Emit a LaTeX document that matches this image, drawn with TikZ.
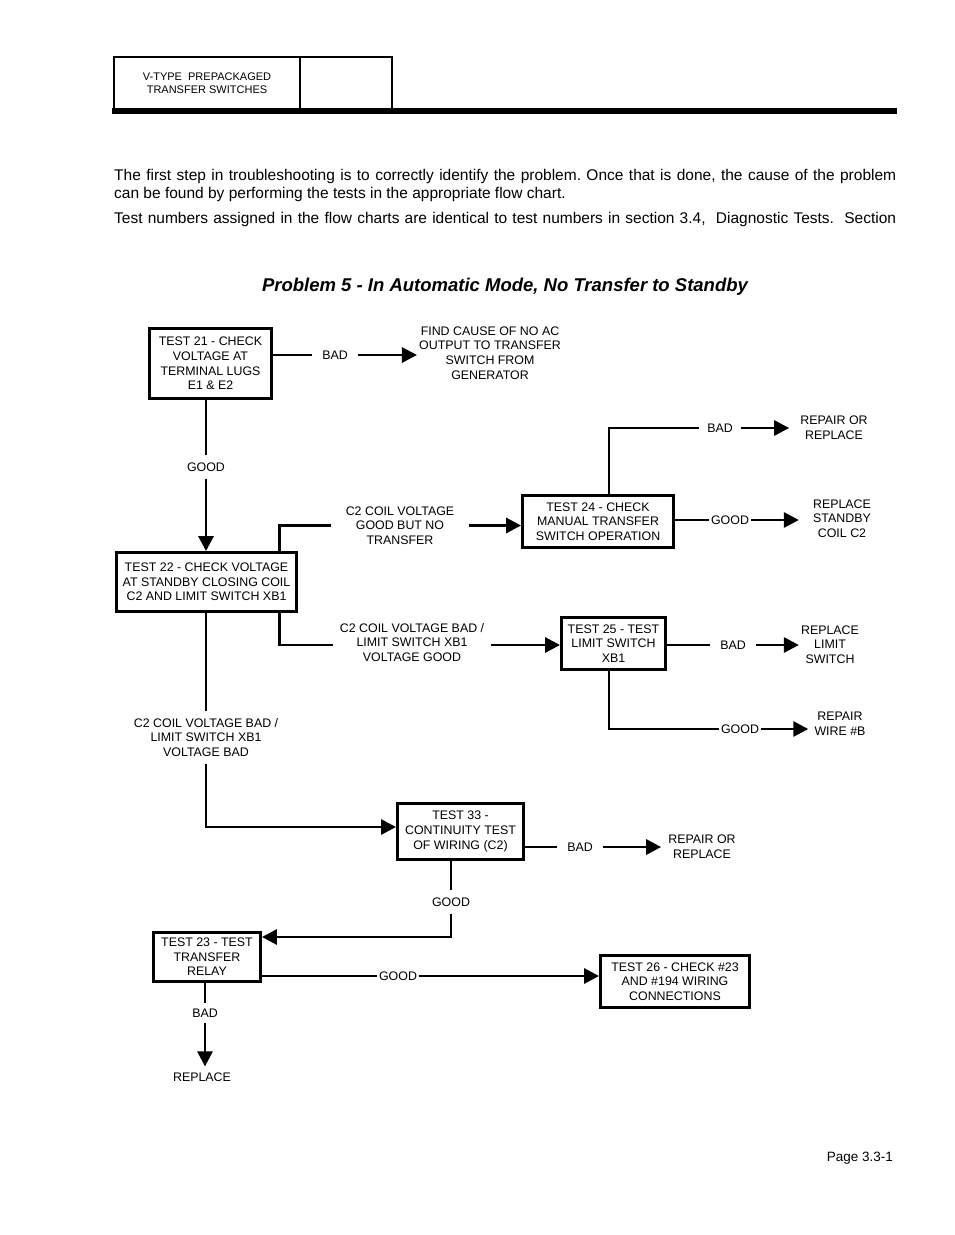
\documentclass[tikz,border=0pt]{standalone}
\usepackage{fontspec}
\setmainfont{Liberation Sans}
\usetikzlibrary{arrows.meta}
\frenchspacing
\newcommand\bxfont{\fontsize{12.4}{14.6}\selectfont}
\newcommand\bodyfont{\fontsize{15.5}{18}\selectfont}
\begin{document}
\begin{tikzpicture}[x=1pt,y=-1pt,
  box/.style={draw, line width=2.9pt, align=center, font=\bxfont, inner sep=0pt},
  lbl/.style={align=center, font=\bxfont, inner xsep=10pt, inner ysep=7pt},
  res/.style={align=center, font=\bxfont, inner sep=2pt},
  wire/.style={line width=2.9pt},
  arr/.style={line width=2.9pt, -{Triangle[length=15pt,width=15pt]}}
]
\useasboundingbox (0,0) rectangle (954,1235);

% header
\draw[line width=1.3pt] (114,57) rectangle (392,110);
\draw[line width=1.3pt] (300,57) -- (300,110);
\fill (112,108) rectangle (897,114);
\node[align=center, font=\fontsize{11}{13}\selectfont] (hdr) at (207,83.5) {V-TYPE\ \ PREPACKAGED\\TRANSFER SWITCHES};

% paragraph
\node[anchor=base west, inner sep=0pt, font=\bodyfont] (p1) at (114,180.5) {\makebox[782pt][s]{The first step in troubleshooting is to correctly identify the problem. Once that is done, the cause of the problem}};
\node[anchor=base west, inner sep=0pt, font=\bodyfont] (p2) at (114,198.5) {can be found by performing the tests in the appropriate flow chart.};
\node[anchor=base west, inner sep=0pt, font=\bodyfont] (p3) at (114,223.5) {\makebox[782pt][s]{Test numbers assigned in the flow charts are identical to test numbers in section 3.4,\ \ Diagnostic Tests.\ \ Section}};

% title
\node[font=\fontsize{18.5}{22}\selectfont\bfseries\itshape] (title) at (505,287) {Problem 5 - In Automatic Mode, No Transfer to Standby};

% boxes
\node[box, minimum width=122pt, minimum height=70pt] (t21) at (210.5,363.5) {TEST 21 - CHECK\\VOLTAGE AT\\TERMINAL LUGS\\E1 \& E2};
\node[box, minimum width=180pt, minimum height=59pt] (t22) at (206.5,582) {TEST 22 - CHECK VOLTAGE\\AT STANDBY CLOSING COIL\\C2 AND LIMIT SWITCH XB1};
\node[box, minimum width=151pt, minimum height=52pt] (t24) at (598,521.5) {TEST 24 - CHECK\\MANUAL TRANSFER\\SWITCH OPERATION};
\node[box, minimum width=104pt, minimum height=52pt] (t25) at (613.5,643.5) {TEST 25 - TEST\\LIMIT SWITCH\\XB1};
\node[box, minimum width=126pt, minimum height=56pt] (t33) at (460.5,831.5) {TEST 33 -\\CONTINUITY TEST\\OF WIRING (C2)};
\node[box, minimum width=107pt, minimum height=49pt] (t23) at (207,957) {TEST 23 - TEST\\TRANSFER\\RELAY};
\node[box, minimum width=149pt, minimum height=52pt] (t26) at (675,981.5) {TEST 26 - CHECK \#23\\AND \#194 WIRING\\CONNECTIONS};

% results
\node[res] (find) at (490,353) {FIND CAUSE OF NO AC\\OUTPUT TO TRANSFER\\SWITCH FROM\\GENERATOR};
\node[res, inner xsep=11pt] (rep1) at (834,427.5) {REPAIR OR\\REPLACE};
\node[res, inner xsep=14pt] (repsb) at (842,518.5) {REPLACE\\STANDBY\\COIL C2};
\node[res, inner xsep=2pt] (replim) at (830,644.5) {REPLACE\\LIMIT\\SWITCH};
\node[res, inner xsep=6pt] (repwire) at (840,724) {REPAIR\\WIRE \#B};
\node[res, inner xsep=7pt] (rep2) at (702,846.5) {REPAIR OR\\REPLACE};
\node[res, inner ysep=6pt] (replace) at (202,1077) {REPLACE};

% labels
\node[lbl] (bad21) at (335,355) {BAD};
\node[lbl] (good21) at (206,467) {GOOD};
\node[lbl, inner xsep=15pt] (c2good) at (400,525.5) {C2 COIL VOLTAGE\\GOOD BUT NO\\TRANSFER};
\node[lbl, inner xsep=8pt] (bad24) at (720,428) {BAD};
\node[lbl, inner xsep=1.5pt] (good24) at (730,520) {GOOD};
\node[lbl, inner xsep=7pt] (c2badg) at (412,642.5) {C2 COIL VOLTAGE BAD /\\LIMIT SWITCH XB1\\VOLTAGE GOOD};
\node[lbl] (bad25) at (733,645) {BAD};
\node[lbl, inner xsep=1.5pt] (good25) at (740,729) {GOOD};
\node[lbl] (c2badb) at (206,737.5) {C2 COIL VOLTAGE BAD /\\LIMIT SWITCH XB1\\VOLTAGE BAD};
\node[lbl] (bad33) at (580,847) {BAD};
\node[lbl] (good33) at (451,902) {GOOD};
\node[lbl, inner xsep=1.5pt] (good23) at (398,976) {GOOD};
\node[lbl, inner ysep=6pt] (bad23) at (205,1013) {BAD};

% connectors
\draw[wire] (t21.east |- bad21) -- (bad21.west);
\draw[arr] (bad21.east) -- (bad21.east -| find.west);

\draw[wire] (t21.south -| good21) -- (good21.north);
\draw[arr] (good21.south) -- (good21.south |- t22.north);

\draw[wire] ([xshift=-18.5pt]t22.north east) |- (c2good.west);
\draw[arr] (c2good.east) -- (c2good.east -| t24.west);

\draw[wire] ([xshift=11pt]t24.north) |- (bad24.west);
\draw[arr] (bad24.east) -- (bad24.east -| rep1.west);

\draw[wire] (t24.east |- good24) -- (good24.west);
\draw[arr] (good24.east) -- (good24.east -| repsb.west);

\draw[wire] ([xshift=-18.5pt]t22.south east) |- ([yshift=-2.5pt]c2badg.west);
\draw[arr] ([yshift=-2.5pt]c2badg.east) -- ([yshift=-2.5pt]c2badg.east -| t25.west);

\draw[wire] (t25.east |- bad25) -- (bad25.west);
\draw[arr] (bad25.east) -- (bad25.east -| replim.west);

\draw[wire] ([xshift=-4.5pt]t25.south) |- (good25.west);
\draw[arr] (good25.east) -- (good25.east -| repwire.west);

\draw[wire] (t22.south -| c2badb) -- (c2badb.north);
\draw[arr] (c2badb.south) |- ([yshift=4.5pt]t33.west);

\draw[wire] (t33.east |- bad33) -- (bad33.west);
\draw[arr] (bad33.east) -- (bad33.east -| rep2.west);

\draw[wire] (t33.south -| good33) -- (good33.north);
\draw[arr] (good33.south) |- ([yshift=20pt]t23.east);

\draw[wire] (t23.east |- good23) -- (good23.west);
\draw[arr] (good23.east) -- (good23.east -| t26.west);

\draw[wire] (t23.south -| bad23) -- (bad23.north);
\draw[arr] (bad23.south) -- (bad23.south |- replace.north);

% page number
\node[anchor=east, font=\fontsize{13.5}{15}\selectfont, inner sep=0pt] (page) at (893,1158) {Page 3.3-1};
\end{tikzpicture}
\end{document}
